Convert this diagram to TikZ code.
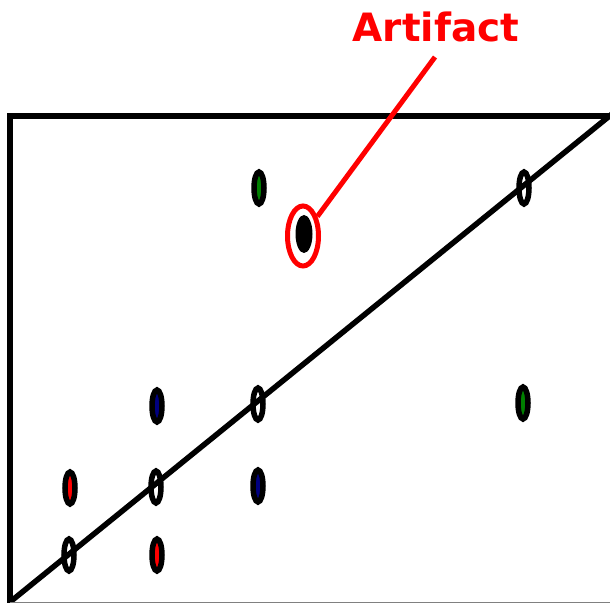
\documentclass[tikz,border=0pt]{standalone}
\usepackage{fontspec}
\setmainfont{DejaVu Sans}
\usetikzlibrary{shapes.geometric}
\definecolor{dgreen}{RGB}{0,128,0}
\definecolor{dblue}{RGB}{0,0,128}
\definecolor{dred}{RGB}{255,0,0}
\tikzset{
  pt/.style={ellipse, draw=black, line width=5.5pt, inner sep=0pt, minimum width=10pt, minimum height=32pt},
  frameline/.style={line width=5.5pt, line cap=rect},
}
\begin{document}
\begin{tikzpicture}[x=1pt,y=1pt]
\useasboundingbox (0,0) rectangle (610,602);
% frame (y flipped: Y = 602 - y)
\coordinate (tl) at (10,486);
\coordinate (tr) at (612,486);
\coordinate (bl) at (10,0);
\coordinate (br) at (610,0);
\draw[frameline] (tr) -- (tl) -- (bl);
\draw[line width=5.5pt] (bl) -- (612,488);
\draw[line width=1pt, gray] (bl) -- (br);
% points
\node[pt, fill=dgreen] (g1) at (259,414) {};
\node[pt] (o1) at (524,414) {};
\node[pt, fill=dblue] (b1) at (157,196) {};
\node[pt] (o2) at (258,198) {};
\node[pt, fill=dgreen] (g2) at (523,199) {};
\node[pt, fill=dred] (r1) at (70,114) {};
\node[pt] (o3) at (156,115) {};
\node[pt, fill=dblue] (b2) at (258,116) {};
\node[pt] (o4) at (69,47) {};
\node[pt, fill=dred] (r2) at (157,47) {};
% artifact
\node[ellipse, fill=black, inner sep=0pt, minimum width=17pt, minimum height=38pt] (art) at (304,368) {};
\node[ellipse, draw=dred, line width=5pt, inner sep=0pt, minimum width=31pt, minimum height=60pt] (ring) at (303,366) {};
\node[text=dred, font=\bfseries\fontsize{39}{41}\selectfont, anchor=base] (lab) at (436,560) {Artifact};
\coordinate (tip) at (435,545);
\draw[dred, line width=5pt] (ring) -- (tip);
\end{tikzpicture}
\end{document}
